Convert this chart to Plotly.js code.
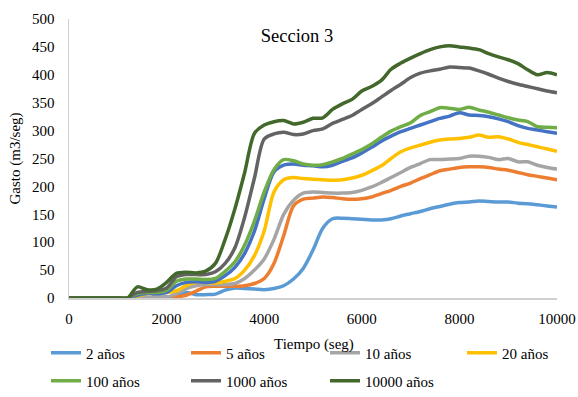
<!DOCTYPE html>
<html>
<head>
<meta charset="utf-8">
<script src="https://cdn.plot.ly/plotly-3.0.1.min.js"></script>
<style>html,body{margin:0;padding:0;background:#fff;}#chart{width:578px;height:397px;}</style>
</head>
<body>
<div id="chart"></div>
<script>
// Time (seg)
const tiempo = [0,200,400,600,800,1000,1200,1400,1600,1800,2000,2200,2400,2600,2800,3000,3200,3400,3600,3800,4000,4200,4400,4600,4800,5000,5200,5400,5600,5800,6000,6200,6400,6600,6800,7000,7200,7400,7600,7800,8000,8200,8400,8600,8800,9000,9200,9400,9600,9800,10000];

const seriesNames = ["2 años","5 años","10 años","20 años","50 años","100 años","1000 años","10000 años"];

const q2 = [0,0,0,0,0,0,0,2,12,3,2,3,10,6,6,7,14,18,17,16,15,17,22,34,53,86,125,142,143,142,141,140,140,142,147,151,155,160,164,168,171,172,174,173,172,172,170,169,167,165,163];
const q5 = [0,0,0,0,0,0,0,0,1,1,1,2,5,12,20,21,21,21,22,26,35,62,112,165,177,179,181,180,178,177,178,181,187,193,200,206,214,221,228,231,234,235,235,234,231,229,225,221,218,215,212];
const q10 = [0,0,0,0,0,0,0,0,1,1,1,8,17,22,24,24,24,26,35,50,70,105,150,175,188,190,189,188,188,189,193,199,207,216,225,234,241,248,248,249,250,254,254,252,248,250,244,244,238,234,231];
const q20 = [0,0,0,0,0,0,0,3,8,9,10,13,22,28,28,27,30,35,50,76,120,190,212,216,214,213,212,211,212,215,220,228,237,250,262,269,274,279,283,285,286,288,292,288,289,285,279,275,271,267,263];
const q50 = [0,0,0,0,0,0,0,5,8,8,10,22,28,29,28,30,40,55,80,120,178,226,238,240,238,237,235,238,245,251,260,270,281,290,298,304,310,316,322,326,332,328,327,325,321,316,309,304,301,298,295];
const q100 = [0,0,0,0,0,0,0,8,10,10,14,30,34,34,33,35,48,65,95,138,190,230,248,246,240,238,239,244,250,258,266,276,288,299,307,314,327,334,341,340,338,342,337,333,328,323,319,316,307,306,305];
const q1000 = [0,0,0,0,0,0,0,10,12,13,18,38,42,42,42,47,62,90,145,215,285,294,297,293,294,300,303,313,320,327,338,348,360,372,383,395,403,407,410,414,413,412,407,401,394,388,383,379,375,371,368];
const q10000 = [0,0,0,0,0,0,0,20,15,16,28,44,46,45,48,62,105,160,225,295,310,316,318,312,315,322,323,338,348,356,371,379,390,410,421,430,438,445,450,452,450,448,445,438,432,427,420,409,400,404,400];

const xTickVals = [0,2000,4000,6000,8000,10000];
const xTickText = ["0","2000","4000","6000","8000","10000"];
const yTickVals = [0,50,100,150,200,250,300,350,400,450,500];

const values = [q2,q5,q10,q20,q50,q100,q1000,q10000];
const colors = ["#5B9BD5","#ED7D31","#A5A5A5","#FFC000","#4472C4","#70AD47","#636363","#43682B"];
// one legend box per visible entry (the 50 años series has no legend entry in the original)
const legendIds = ["legend","legend2","legend3","legend4",null,"legend5","legend6","legend7"];
const legendPos = {
  legend:  [46, 353], legend2: [186, 353], legend3: [325, 353], legend4: [462, 353],
  legend5: [46, 381], legend6: [186, 381], legend7: [325, 381]
};

const FONT = "Liberation Serif, Times New Roman, serif";

const traces = values.map((v,i)=>{
  const t = {
    x: tiempo, y: v, name: seriesNames[i], type: "scatter", mode: "lines",
    line: {color: colors[i], width: 3.5, shape: "spline", smoothing: 0.8},
    hoverinfo: "skip"
  };
  if (legendIds[i]) { t.legend = legendIds[i]; }
  else { t.showlegend = false; }
  return t;
});

const layout = {
  width: 578, height: 397,
  margin: {l: 69, r: 21, t: 19, b: 99},
  paper_bgcolor: "#fff", plot_bgcolor: "#fff",
  font: {family: FONT, size: 15, color: "#000"},
  title: {text: "Seccion 3", font: {family: FONT, size: 18.5, color: "#000"},
          xref: "container", yref: "container", x: 297/578, xanchor: "center", y: 1-36/397, yanchor: "middle"},
  xaxis: {
    range: [0, 10000], tickvals: xTickVals, ticktext: xTickText, ticks: "", showgrid: false, zeroline: false,
    showline: true, linecolor: "#D0D0D0", linewidth: 1.5, ticklabelstandoff: 6,
    tickfont: {family: FONT, size: 15, color: "#000"}
  },
  yaxis: {
    range: [0, 500], tickvals: yTickVals, ticks: "", showgrid: false, zeroline: false,
    showline: true, linecolor: "#D0D0D0", linewidth: 1.5, ticklabelstandoff: 10,
    tickfont: {family: FONT, size: 15, color: "#000"},
    title: {text: "Gasto (m3/seg)", font: {family: FONT, size: 15, color: "#000"}, standoff: 8}
  },
  annotations: [{
    text: "Tiempo (seg)", xref: "paper", yref: "paper", x: 0.502, y: -46/279,
    xanchor: "center", yanchor: "middle", showarrow: false,
    font: {family: FONT, size: 15, color: "#000"}
  }],
  showlegend: true
};

Object.keys(legendPos).forEach(id=>{
  layout[id] = {
    orientation: "h", xref: "container", yref: "container", xanchor: "left", yanchor: "middle",
    x: legendPos[id][0]/578, y: 1 - legendPos[id][1]/397,
    font: {family: FONT, size: 15, color: "#000"}, bgcolor: "rgba(0,0,0,0)", borderwidth: 0,
    itemwidth: 30
  };
});

Plotly.newPlot("chart", traces, layout, {displayModeBar: false, staticPlot: true});
</script>
</body>
</html>
